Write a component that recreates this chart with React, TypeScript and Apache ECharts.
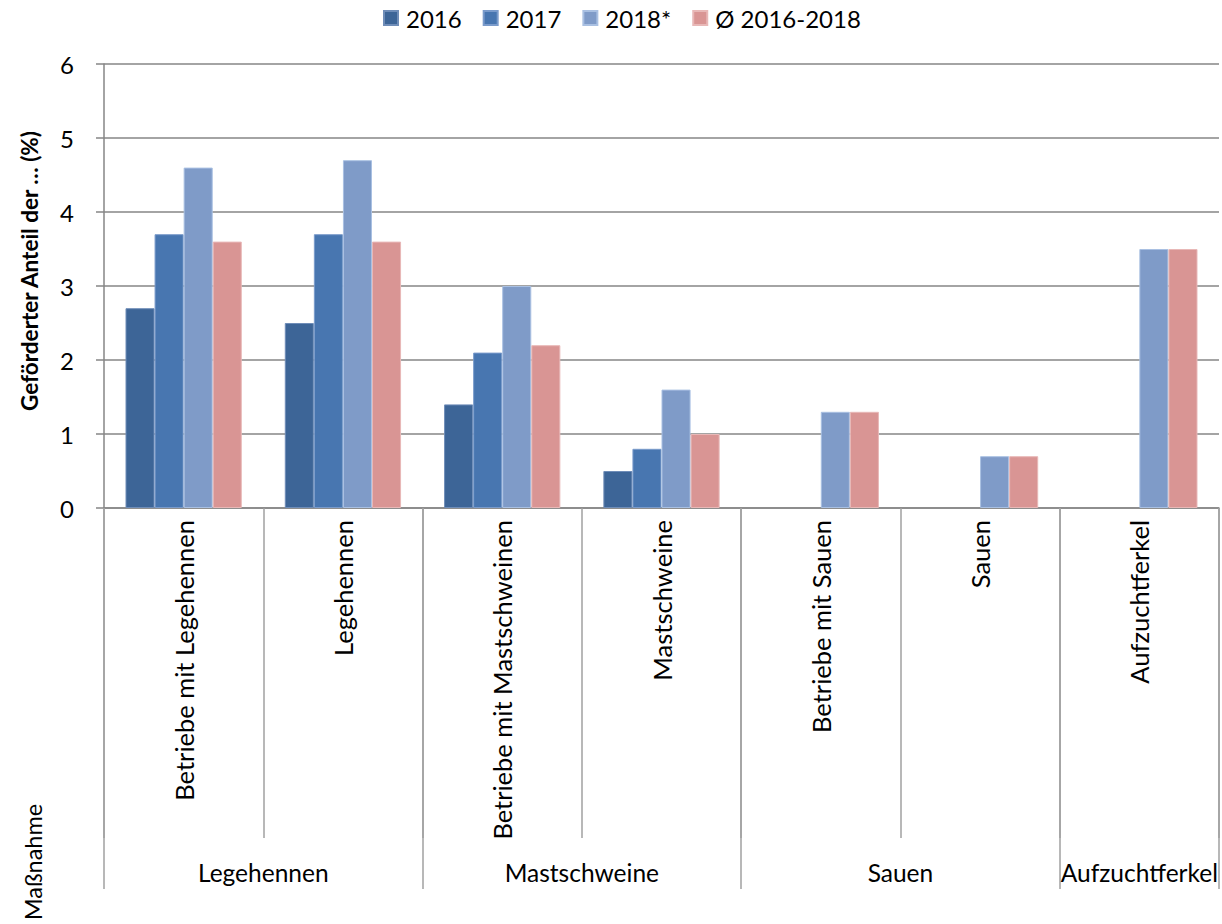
import React, { useEffect, useRef } from "react";
import * as echarts from "echarts";

const categories = [
  "Betriebe mit Legehennen",
  "Legehennen",
  "Betriebe mit Mastschweinen",
  "Mastschweine",
  "Betriebe mit Sauen",
  "Sauen",
  "Aufzuchtferkel",
];
const groupLabels = ["Legehennen", "Mastschweine", "Sauen", "Aufzuchtferkel"];
const groupSpans = [2, 2, 2, 1];

const seriesNames = ["2016", "2017", "2018*", "Ø 2016-2018"];
const values2016 = [2.7, 2.5, 1.4, 0.5, null, null, null];
const values2017 = [3.7, 3.7, 2.1, 0.8, null, null, null];
const values2018 = [4.6, 4.7, 3.0, 1.6, 1.3, 0.7, 3.5];
const valuesAvg = [3.6, 3.6, 2.2, 1.0, 1.3, 0.7, 3.5];

const yTicks = [0, 1, 2, 3, 4, 5, 6];

const colors = ["#3D6597", "#4876B0", "#7F9BC8", "#D99594"];
const borders = ["#6F8DB8", "#7A9BCB", "#A9C0E2", "#E8B8B7"];

const FONT = "Lato";

export default function App() {
  const ref = useRef<HTMLDivElement>(null);

  useEffect(() => {
    if (!ref.current) return;
    const chart = echarts.init(ref.current, undefined, { renderer: "svg" });

    // group axis: 2 slots per category, boundaryGap false
    const slots = categories.length * 2 + 1;
    const groupData: string[] = new Array(slots).fill("");
    const boundaryIdx: number[] = [];
    let start = 0;
    groupSpans.forEach((span, i) => {
      boundaryIdx.push(start * 2);
      groupData[start * 2 + span] = groupLabels[i];
      start += span;
    });
    boundaryIdx.push(start * 2);

    const seriesData = [values2016, values2017, values2018, valuesAvg];

    chart.setOption({
      animation: false,
      textStyle: { fontFamily: FONT },
      legend: {
        top: 1,
        left: 378,
        itemWidth: 14,
        itemHeight: 14,
        itemGap: 21,
        icon: "rect",
        textStyle: { fontSize: 24, color: "#000", fontFamily: FONT, padding: [0, 0, 0, 3] },
        data: seriesNames,
      },
      grid: { left: 104, right: 1, top: 64, bottom: 416, containLabel: false },
      xAxis: [
        {
          type: "category",
          position: "bottom",
          data: categories,
          boundaryGap: true,
          axisLine: { show: true, lineStyle: { color: "#868686", width: 1.5 } },
          axisTick: {
            show: true,
            interval: 0,
            length: 330,
            lineStyle: { color: "#A0A0A0", width: 1.5 },
          },
          axisLabel: {
            interval: 0,
            rotate: 90,
            margin: 12,
            fontSize: 25.5,
            color: "#000",
            fontFamily: FONT,
          },
          splitLine: { show: false },
        },
        {
          type: "category",
          position: "bottom",
          data: groupData,
          boundaryGap: false,
          axisLine: { show: false },
          axisTick: {
            show: true,
            interval: (index: number) => boundaryIdx.indexOf(index) >= 0,
            length: 381,
            lineStyle: { color: "#A0A0A0", width: 1.5 },
          },
          axisLabel: {
            interval: 0,
            margin: 352,
            fontSize: 24.5,
            color: "#000",
            fontFamily: FONT,
            showMinLabel: true,
            showMaxLabel: true,
          },
          splitLine: { show: false },
        },
      ],
      yAxis: {
        type: "value",
        min: yTicks[0],
        max: yTicks[yTicks.length - 1],
        interval: 1,
        name: "Geförderter Anteil der … (%)",
        nameLocation: "middle",
        nameGap: 63,
        nameTextStyle: {
          fontSize: 22.5,
          fontWeight: "bold",
          color: "#000",
          fontFamily: FONT,
          padding: [0, 0, 0, 30],
        },
        axisLine: { show: true, lineStyle: { color: "#868686", width: 1.5 } },
        axisTick: { show: true, inside: false, length: 8, lineStyle: { color: "#868686", width: 1.5 } },
        axisLabel: { fontSize: 24, color: "#000", margin: 30, fontFamily: FONT },
        splitLine: { show: true, lineStyle: { color: "#868686", width: 1.5 } },
      },
      series: seriesNames.map((name, i) => ({
        name,
        type: "bar",
        xAxisIndex: 0,
        data: seriesData[i],
        barGap: "0%",
        barCategoryGap: "27%",
        itemStyle: { color: colors[i], borderColor: borders[i], borderWidth: 1 },
      })),
      graphic: [
        {
          type: "text",
          x: 33,
          y: 862,
          rotation: Math.PI / 2,
          style: {
            text: "Maßnahme",
            fontSize: 23.5,
            fontFamily: FONT,
            fill: "#000",
            align: "center",
            verticalAlign: "middle",
          },
        },
      ],
    });

    return () => chart.dispose();
  }, []);

  return (
    <div
      ref={ref}
      style={{ position: "fixed", left: 0, top: 0, width: 1222, height: 924, background: "#fff" }}
    />
  );
}
